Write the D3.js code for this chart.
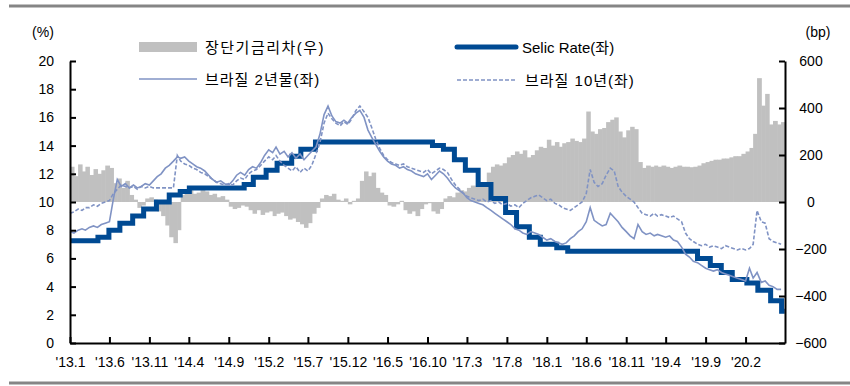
<!DOCTYPE html>
<html>
<head>
<meta charset="utf-8">
<script src="https://cdnjs.cloudflare.com/ajax/libs/d3/7.8.5/d3.min.js"></script>
<style>
    body { margin: 0; background: #fff; }
    text { font-family: "Liberation Sans", Arial, "Noto Sans CJK KR", sans-serif; fill: #000; }
    .kr { font-family: "Liberation Sans", Arial, "Noto Sans CJK KR", sans-serif; }
</style>
</head>
<body>
<div id="chart"></div>
<script>
// half-month samples starting 2013.1.1
var yield2y = [7.9, 7.8, 8.0, 8.1, 8.0, 8.2, 8.3, 8.2, 8.4, 8.5,
    8.6, 10.2, 11.6, 11.1, 11.3, 11.0, 11.2, 11.0, 11.1, 11.3,
    11.2, 11.5, 11.8, 12.0, 12.4, 12.6, 12.9, 13.2, 13.1, 13.2,
    12.9, 12.7, 12.5, 12.4, 12.2, 11.9, 11.6, 11.4, 11.5, 11.3,
    11.2, 11.5, 11.9, 12.1, 11.9, 12.3, 12.5, 12.4, 12.8, 13.3,
    13.7, 13.5, 13.9, 13.4, 13.6, 13.2, 13.5, 13.1, 13.4, 13.0,
    13.3, 13.6, 13.9, 14.8, 16.2, 16.8, 16.1, 15.7, 15.6, 15.8,
    15.6, 16.0, 16.3, 16.5, 16.0, 15.1, 14.6, 14.1, 13.6, 13.2,
    12.9, 12.7, 12.6, 12.4, 12.5, 12.3, 12.2, 12.0, 11.9, 11.8,
    12.0, 11.6, 11.9, 12.2, 12.0, 11.7, 11.3, 11.0, 10.8, 10.6,
    10.3, 10.1, 10.0, 9.9, 9.8, 9.6, 9.4, 9.2, 9.0, 8.8,
    8.6, 8.4, 8.1, 8.0, 7.8, 7.7, 7.9, 7.8, 7.7, 7.5,
    7.3, 7.4, 7.2, 7.1, 7.0, 7.1, 7.4, 7.6, 7.9, 8.1,
    8.6, 9.6, 8.7, 8.5, 8.3, 8.4, 9.2, 8.9, 8.6, 8.2,
    7.9, 7.6, 7.4, 8.4, 7.9, 7.7, 7.8, 7.6, 7.7, 7.6,
    7.5, 7.6, 7.3, 7.2, 6.8, 6.3, 6.1, 5.8, 5.7, 5.5,
    5.3, 5.2, 5.1, 5.2, 5.0, 4.9, 4.8, 4.7, 4.6, 4.5,
    4.4, 5.3, 4.6, 5.0, 4.3, 4.4, 4.1, 4.0, 3.8, 3.8];

var yield10y = [9.2, 9.3, 9.5, 9.4, 9.6, 9.6, 9.8, 9.7, 9.9, 10.0,
    10.1, 10.6, 10.9, 11.2, 11.1, 11.0, 11.1, 10.9, 11.1, 11.0,
    11.1, 11.0, 11.0, 11.0, 11.0, 11.0, 11.0, 13.3, 12.9, 12.7,
    12.6, 12.4, 12.3, 12.1, 12.0, 11.8, 11.6, 11.4, 11.3, 11.2,
    11.3, 11.2, 11.5, 11.7, 11.6, 12.0, 12.2, 12.3, 12.6, 12.9,
    13.2, 13.0, 13.3, 12.9, 12.6, 12.4, 12.2, 12.5, 12.1, 12.4,
    12.2, 12.6, 13.4, 14.2, 15.6, 16.3, 15.9, 15.6, 15.4, 15.7,
    15.5, 15.9, 16.5, 16.8, 16.4, 16.0, 15.3, 14.5, 13.8, 13.3,
    13.0, 12.8, 12.7, 12.6, 12.7, 12.5, 12.4, 12.3, 12.2, 12.1,
    12.3, 12.0, 12.2, 12.4, 12.3, 12.1, 11.6, 11.2, 10.9, 10.6,
    10.4, 10.3, 10.2, 10.1, 10.2, 10.0, 10.1, 9.9, 10.0, 9.8,
    9.9, 9.7, 9.8, 9.6, 9.9, 10.1, 10.3, 10.4, 10.5, 10.3,
    10.1, 10.2, 9.9, 9.8, 9.6, 9.5, 9.4, 9.6, 9.8, 10.0,
    10.6, 12.3, 11.4, 11.1, 11.3, 11.9, 12.4, 12.2, 11.1, 10.7,
    10.4, 10.2, 10.0, 9.6, 9.2, 9.1, 9.0, 9.2, 9.0, 9.1,
    9.0, 8.9, 9.0, 8.8, 8.6, 7.8, 7.4, 7.2, 7.0, 6.9,
    7.0, 6.8, 6.9, 6.8, 6.7, 6.9, 6.8, 6.7, 6.6, 6.7,
    6.6, 6.7, 7.0, 9.4, 8.6, 8.5, 7.4, 7.2, 7.1, 7.0];

var spreadBp = [150, 110, 160, 130, 150, 115, 140, 120, 135, 155,
    145, 80, 100, 60, 90, 30, 10, -25, -15, 15,
    20, 10, -40, -60, -100, -150, -175, -120, 30, 45,
    50, 35, 40, 55, 45, 30, 35, 20, 25, 10,
    -20, -30, -25, -15, -20, -35, -50, -35, -55, -45,
    -40, -60, -50, -45, -60, -75, -70, -85, -95, -110,
    -90, -50, -25, 15, 30, 25, 35, 10, 5, 15,
    -10, 5, 15, 90, 130, 110, 125, 60, 40, 30,
    -15, -20, -10, 5, -35, -50, -40, -60, -30, -10,
    -5, -40, -50, -30, 15, 25, 20, 40, 50, 45,
    60, 70, 65, 80, 75, 125, 150, 160, 155, 165,
    190, 200, 215, 205, 220, 190, 200, 220, 235, 230,
    265, 240, 255, 235, 250, 255, 270, 260, 255, 270,
    385, 300, 290, 310, 315, 340, 350, 360, 300, 275,
    305, 320, 310, 170, 145, 155, 150, 155, 150, 155,
    150, 145, 150, 155, 150, 150, 148, 150, 155, 165,
    170, 175, 180, 180, 185, 185, 190, 195, 195, 205,
    215, 230, 290, 527, 410, 460, 330, 345, 330, 340];

// Selic target changes
var selicDates = ["2013-01-01", "2013-04-18", "2013-05-30", "2013-07-11", "2013-08-29",
    "2013-10-10", "2013-11-28", "2014-01-16", "2014-02-27", "2014-04-03",
    "2014-10-30", "2014-12-04", "2015-01-22", "2015-03-05", "2015-04-30",
    "2015-06-04", "2015-07-30", "2016-10-20", "2016-12-01", "2017-01-12",
    "2017-02-23", "2017-04-13", "2017-06-01", "2017-07-27", "2017-09-07",
    "2017-10-26", "2017-12-07", "2018-02-08", "2018-03-22", "2019-08-01",
    "2019-09-19", "2019-10-31", "2019-12-12", "2020-02-06", "2020-03-19",
    "2020-05-07", "2020-06-18", "2020-06-30"];
var selicValues = [7.25, 7.5, 8.0, 8.5, 9.0,
    9.5, 10.0, 10.5, 10.75, 11.0,
    11.25, 11.75, 12.25, 12.75, 13.25,
    13.75, 14.25, 14.0, 13.75, 13.0,
    12.25, 11.25, 10.25, 9.25, 8.25,
    7.5, 7.0, 6.75, 6.5, 6.0,
    5.5, 5.0, 4.5, 4.25, 3.75,
    3.0, 2.25, 2.25];

var xTickLabels = ["'13.1", "'13.6", "'13.11", "'14.4", "'14.9", "'15.2", "'15.7", "'15.12", "'16.5",
    "'16.10", "'17.3", "'17.8", "'18.1", "'18.6", "'18.11", "'19.4", "'19.9", "'20.2"];
var leftTicks = [0, 2, 4, 6, 8, 10, 12, 14, 16, 18, 20];
var rightTicks = [-600, -400, -200, 0, 200, 400, 600];

var svgWidth = 850;
var svgHeight = 386;

var margin = {
    top: 61,
    right: 65,
    bottom: 43,
    left: 70
};

var width = svgWidth - margin.left - margin.right;
var height = svgHeight - margin.top - margin.bottom;

var svg = d3.select("#chart")
    .append("svg")
    .attr("width", svgWidth)
    .attr("height", svgHeight);

// frame lines top and bottom
svg.append("line")
    .attr("x1", 9).attr("x2", 850).attr("y1", 6).attr("y2", 6)
    .attr("stroke", "#858585").attr("stroke-width", 3);
svg.append("line")
    .attr("x1", 9).attr("x2", 850).attr("y1", 383).attr("y2", 383)
    .attr("stroke", "#858585").attr("stroke-width", 3);

var charts = svg.append("g")
    .attr("transform", `translate(${margin.left}, ${margin.top})`);

function halfMonth(k) {
    return new Date(2013, Math.floor(k / 2), k % 2 ? 16 : 1);
}

var parseDate = d3.timeParse("%Y-%m-%d");

var xScale = d3.scaleTime()
    .domain([new Date(2013, 0, 1), new Date(2020, 6, 1)])
    .range([0, width]);

var yLeft = d3.scaleLinear()
    .domain([0, 20])
    .range([height, 0]);

var yRight = d3.scaleLinear()
    .domain([-600, 600])
    .range([height, 0]);

// spread bars
charts.append("g")
    .selectAll("rect")
    .data(spreadBp)
    .enter()
    .append("rect")
    .attr("x", (d, i) => xScale(halfMonth(i)))
    .attr("width", (d, i) => xScale(halfMonth(i + 1)) - xScale(halfMonth(i)) + 0.6)
    .attr("y", d => Math.min(yRight(d), yRight(0)))
    .attr("height", d => Math.abs(yRight(d) - yRight(0)))
    .attr("fill", "#c0c0c0");

// Selic
var selic = selicDates.map((d, i) => ({ date: parseDate(d), value: selicValues[i] }));

charts.append("path")
    .datum(selic)
    .attr("fill", "none")
    .attr("stroke", "#004a93")
    .attr("stroke-width", 5)
    .attr("d", d3.line()
        .x(d => xScale(d.date))
        .y(d => yLeft(d.value))
        .curve(d3.curveStepAfter));

var thinLine = d3.line()
    .x((d, i) => xScale(halfMonth(i)))
    .y(d => yLeft(d));

charts.append("path")
    .datum(yield10y)
    .attr("fill", "none")
    .attr("stroke", "#8093c4")
    .attr("stroke-width", 1.6)
    .attr("stroke-dasharray", "4,2")
    .attr("d", thinLine);

charts.append("path")
    .datum(yield2y)
    .attr("fill", "none")
    .attr("stroke", "#8093c4")
    .attr("stroke-width", 1.6)
    .attr("d", thinLine);

// axes
var tickDates = xTickLabels.map(function (s) {
    var parts = s.slice(1).split(".");
    return new Date(2000 + +parts[0], +parts[1] - 1, 1);
});

var bottomAxis = d3.axisBottom(xScale)
    .tickValues(tickDates)
    .tickSize(-6)
    .tickSizeOuter(0)
    .tickPadding(14)
    .tickFormat((d, i) => xTickLabels[i]);

var leftAxis = d3.axisLeft(yLeft)
    .tickValues(leftTicks)
    .tickSize(-6)
    .tickSizeOuter(0)
    .tickPadding(16);

var rightAxis = d3.axisRight(yRight)
    .tickValues(rightTicks)
    .tickSize(-6)
    .tickSizeOuter(0)
    .tickPadding(16);

var gx = charts.append("g")
    .attr("transform", `translate(0, ${height})`)
    .call(bottomAxis);

var gl = charts.append("g")
    .call(leftAxis);

var gr = charts.append("g")
    .attr("transform", `translate(${width}, 0)`)
    .call(rightAxis);

[gx, gl, gr].forEach(function (g) {
    g.select(".domain").attr("stroke", "#000").attr("stroke-width", 2);
    g.selectAll(".tick line").attr("stroke", "#000").attr("stroke-width", 2);
    g.selectAll("text").attr("font-size", 14).attr("fill", "#000")
        .style("font-family", "'Liberation Sans', Arial, sans-serif");
});
gr.selectAll("text").attr("text-anchor", "middle").attr("x", 26);

// unit labels
svg.append("text")
    .attr("x", 43).attr("y", 37)
    .attr("text-anchor", "middle")
    .attr("font-size", 14)
    .text("(%)");

svg.append("text")
    .attr("x", 818).attr("y", 37)
    .attr("text-anchor", "middle")
    .attr("font-size", 14)
    .text("(bp)");

// legend
var legend = svg.append("g");

legend.append("rect")
    .attr("x", 139).attr("y", 42).attr("width", 58).attr("height", 10)
    .attr("fill", "#c0c0c0");
legend.append("text")
    .attr("class", "kr")
    .attr("x", 205).attr("y", 53)
    .attr("font-size", 15)
    .attr("letter-spacing", 1.5)
    .text("장단기금리차(우)");

legend.append("line")
    .attr("x1", 457).attr("x2", 516).attr("y1", 47).attr("y2", 47)
    .attr("stroke", "#004a93").attr("stroke-width", 5).attr("stroke-linecap", "round");
legend.append("text")
    .attr("class", "kr")
    .attr("x", 522).attr("y", 53)
    .attr("font-size", 15)
    .text("Selic Rate(좌)");

legend.append("line")
    .attr("x1", 139).attr("x2", 197).attr("y1", 79).attr("y2", 79)
    .attr("stroke", "#8093c4").attr("stroke-width", 1.6);
legend.append("text")
    .attr("class", "kr")
    .attr("x", 205).attr("y", 85)
    .attr("font-size", 15)
    .attr("letter-spacing", 1)
    .text("브라질 2년물(좌)");

legend.append("line")
    .attr("x1", 457).attr("x2", 517).attr("y1", 80).attr("y2", 80)
    .attr("stroke", "#8093c4").attr("stroke-width", 1.6)
    .attr("stroke-dasharray", "4,2");
legend.append("text")
    .attr("class", "kr")
    .attr("x", 525).attr("y", 86)
    .attr("font-size", 15)
    .attr("letter-spacing", 1)
    .text("브라질 10년(좌)");
</script>
</body>
</html>
